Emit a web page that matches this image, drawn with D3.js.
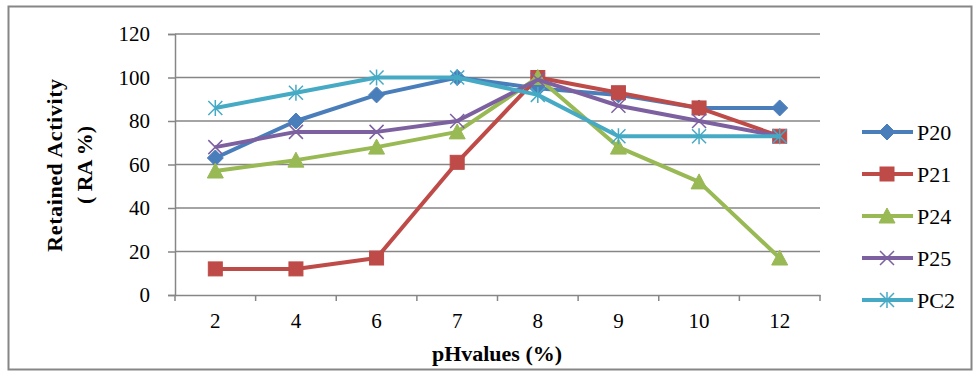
<!DOCTYPE html>
<html>
<head>
<meta charset="utf-8">
<script src="https://cdn.jsdelivr.net/npm/d3@7"></script>
<style>
  html, body { margin: 0; padding: 0; background: #fff; }
  svg { display: block; }
  text { font-family: "Liberation Serif", "Times New Roman", serif; fill: #000; }
</style>
</head>
<body>
<svg id="chart" width="977" height="372"></svg>
<script>
// pH values on the category axis
const categories = ["2", "4", "6", "7", "8", "9", "10", "12"];

// Retained activity (%) for each isolate
const seriesNames = ["P20", "P21", "P24", "P25", "PC2"];
const P20 = [63, 80, 92, 100, 95, 92, 86, 86];
const P21 = [12, 12, 17, 61, 100, 93, 86, 73];
const P24 = [57, 62, 68, 75, 100, 68, 52, 17];
const P25 = [68, 75, 75, 80, 99, 87, 80, 73];
const PC2 = [86, 93, 100, 100, 92, 73, 73, 73];

const yTicks = [0, 20, 40, 60, 80, 100, 120];

const colors = {
  P20: "#4a7ebb",
  P21: "#be4b48",
  P24: "#98b954",
  P25: "#7d60a0",
  PC2: "#46aac5"
};
const markers = { P20: "diamond", P21: "square", P24: "triangle", P25: "x", PC2: "star" };

const series = [
  { name: "P20", values: P20 },
  { name: "P21", values: P21 },
  { name: "P24", values: P24 },
  { name: "P25", values: P25 },
  { name: "PC2", values: PC2 }
];

const svg = d3.select("#chart");
const grid = "#868686";

// outer chart border
svg.append("rect")
  .attr("x", 8.5).attr("y", 6.5)
  .attr("width", 963).attr("height", 363)
  .attr("fill", "#fff").attr("stroke", grid).attr("stroke-width", 2);

const plot = { left: 175, right: 820, top: 34, bottom: 295 };

const x = d3.scaleBand().domain(categories).range([plot.left, plot.right]);
const y = d3.scaleLinear().domain([0, 120]).range([plot.bottom, plot.top]);

// horizontal gridlines
svg.append("g")
  .selectAll("line")
  .data(yTicks.filter(v => v > 0))
  .join("line")
  .attr("x1", plot.left).attr("x2", plot.right)
  .attr("y1", d => y(d)).attr("y2", d => y(d))
  .attr("stroke", grid).attr("stroke-width", 1.5);

// y axis
const yAxis = svg.append("g")
  .attr("transform", `translate(${plot.left},0)`)
  .call(d3.axisLeft(y).tickValues(yTicks).tickSize(7).tickPadding(18));
yAxis.select(".domain").attr("stroke", grid).attr("stroke-width", 1.5);
yAxis.selectAll(".tick line").attr("stroke", grid).attr("stroke-width", 1.5);
yAxis.selectAll(".tick text")
  .attr("font-size", 21)
  .style("font-family", "'Liberation Serif', serif");

// x axis: ticks sit between categories
const xAxis = svg.append("g")
  .attr("transform", `translate(0,${plot.bottom})`)
  .call(d3.axisBottom(x).tickSize(0).tickPadding(18));
xAxis.select(".domain").attr("stroke", grid).attr("stroke-width", 1.5);
xAxis.selectAll(".tick text")
  .attr("font-size", 21)
  .style("font-family", "'Liberation Serif', serif");
svg.append("g")
  .selectAll("line")
  .data(categories.map(c => x(c)).concat([x(categories[categories.length - 1]) + x.bandwidth()]))
  .join("line")
  .attr("x1", d => d).attr("x2", d => d)
  .attr("y1", plot.bottom).attr("y2", plot.bottom + 6)
  .attr("stroke", grid).attr("stroke-width", 1.5);

// axis titles
svg.append("text")
  .attr("x", 497).attr("y", 361)
  .attr("text-anchor", "middle")
  .attr("font-size", 22).attr("font-weight", "bold")
  .text("pHvalues (%)");

const yt = svg.append("g").attr("transform", "translate(62,165) rotate(-90)");
yt.append("text").attr("x", 0).attr("y", 0)
  .attr("text-anchor", "middle").attr("font-size", 22).attr("font-weight", "bold")
  .attr("letter-spacing", 0.6)
  .text("Retained Activity");
yt.append("text").attr("x", 0).attr("y", 30)
  .attr("text-anchor", "middle").attr("font-size", 22).attr("font-weight", "bold")
  .text("( RA %)");

// marker drawing
function drawMarker(g, type, color, cx, cy) {
  const s = 7;
  if (type === "diamond") {
    g.append("path")
      .attr("d", `M${cx},${cy - s - 1}L${cx + s + 1},${cy}L${cx},${cy + s + 1}L${cx - s - 1},${cy}Z`)
      .attr("fill", color).attr("stroke", color).attr("stroke-width", 1);
  } else if (type === "square") {
    g.append("rect")
      .attr("x", cx - s).attr("y", cy - s).attr("width", 2 * s).attr("height", 2 * s)
      .attr("fill", color).attr("stroke", color).attr("stroke-width", 1);
  } else if (type === "triangle") {
    g.append("path")
      .attr("d", `M${cx},${cy - s - 1}L${cx + s + 1},${cy + s}L${cx - s - 1},${cy + s}Z`)
      .attr("fill", color).attr("stroke", color).attr("stroke-width", 1);
  } else if (type === "x") {
    g.append("path")
      .attr("d", `M${cx - s},${cy - s}L${cx + s},${cy + s}M${cx + s},${cy - s}L${cx - s},${cy + s}`)
      .attr("stroke", color).attr("stroke-width", 1.5).attr("fill", "none");
  } else if (type === "star") {
    g.append("path")
      .attr("d", `M${cx - s},${cy - s}L${cx + s},${cy + s}M${cx + s},${cy - s}L${cx - s},${cy + s}M${cx},${cy - s - 1}L${cx},${cy + s + 1}`)
      .attr("stroke", color).attr("stroke-width", 1.5).attr("fill", "none");
  }
}

const line = d3.line()
  .x((d, i) => x(categories[i]) + x.bandwidth() / 2)
  .y(d => y(d));

// series lines with markers, later series drawn on top
series.forEach(s => {
  const g = svg.append("g");
  const c = colors[s.name];
  g.append("path")
    .datum(s.values)
    .attr("d", line)
    .attr("fill", "none")
    .attr("stroke", c)
    .attr("stroke-width", 4)
    .attr("stroke-linejoin", "round");
  s.values.forEach((v, i) => {
    drawMarker(g, markers[s.name], c, x(categories[i]) + x.bandwidth() / 2, y(v));
  });
});

// legend
const legend = svg.append("g");
seriesNames.forEach((name, i) => {
  const ly = 132 + i * 42;
  const c = colors[name];
  const g = legend.append("g");
  g.append("line")
    .attr("x1", 862).attr("x2", 913)
    .attr("y1", ly).attr("y2", ly)
    .attr("stroke", c).attr("stroke-width", 4);
  drawMarker(g, markers[name], c, 887, ly);
  g.append("text")
    .attr("x", 917).attr("y", ly + 8)
    .attr("font-size", 22)
    .text(name);
});
</script>
</body>
</html>
